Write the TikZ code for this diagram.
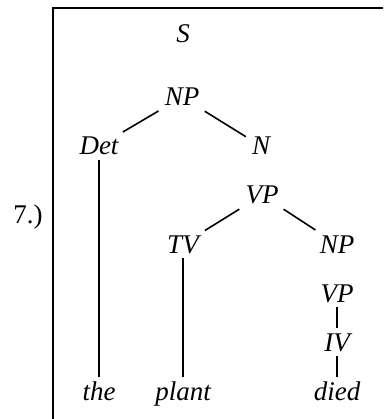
\documentclass[tikz,border=0pt]{standalone}
\usepackage{fontspec}
\setmainfont{Liberation Serif}
\begin{document}
\begin{tikzpicture}[x=1pt,y=-1pt,
  lab/.style={font=\fontsize{27}{32}\selectfont\itshape, inner xsep=6pt, inner ysep=5pt,
              text height=17.8pt, text depth=0pt, anchor=base},
  edge/.style={line width=1.6pt},
  frame/.style={line width=2pt, line join=miter}]
\useasboundingbox (0,0) rectangle (383,419);
\clip (0,0) rectangle (383,419);
\draw[frame] (53,425) -- (53,8.3) -- (390,8.3);
\node[lab] (S) at (183,43) {S};
\node[lab] (NP) at (182,106) {NP};
\node[lab] (Det) at (99,155) {Det};
\node[lab] (N) at (261,155) {N};
\node[lab] (VP) at (262,204) {VP};
\node[lab] (TV) at (183,253) {TV};
\node[lab] (NPb) at (337,253) {NP};
\node[lab] (VPb) at (337,302) {VP};
\node[lab] (IV) at (337,351) {IV};
\node[lab] (the) at (99,400) {the};
\node[lab] (plant) at (183,400) {plant};
\node[lab] (died) at (337,400) {died};
\node[font=\fontsize{27}{32}\selectfont, anchor=base, inner sep=0pt] (num) at (28,223) {7.)};
\draw[edge] (NP) -- (Det);
\draw[edge] (NP) -- (N);
\draw[edge] (VP) -- (TV);
\draw[edge] (VP) -- (NPb);
\draw[edge] (Det) -- (the);
\draw[edge] (TV) -- (plant);
\draw[edge] (VPb) -- (IV);
\draw[edge] (IV) -- (died);
\end{tikzpicture}
\end{document}
